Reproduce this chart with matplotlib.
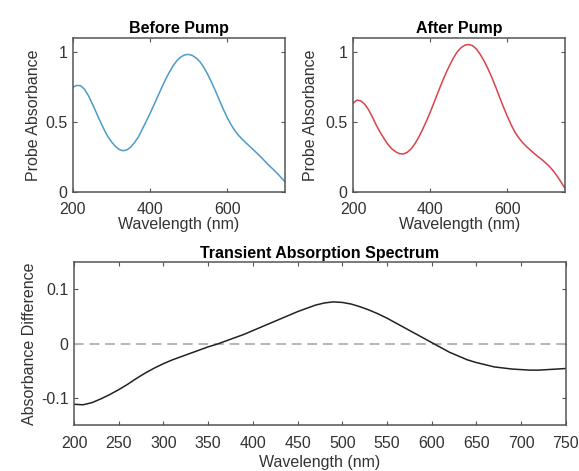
"""
Transient absorption figure: probe absorbance before/after pump and the difference spectrum
"""

import numpy as np
import matplotlib
matplotlib.use("Agg")
import matplotlib.pyplot as plt

plt.rcParams['font.family'] = ['Liberation Sans', 'DejaVu Sans']
plt.rcParams['font.size'] = 11.5

# values, one every 10 nm from 200 to 750
wavelength = np.arange(200, 751, 10)

abs_before = [0.750, 0.763, 0.760, 0.735, 0.690, 0.632, 0.572, 0.510, 0.452, 0.400,
              0.360, 0.327, 0.305, 0.296, 0.302, 0.322, 0.355, 0.395, 0.450, 0.505,
              0.562, 0.622, 0.683, 0.745, 0.803, 0.856, 0.903, 0.940, 0.966, 0.980,
              0.984, 0.976, 0.958, 0.930, 0.890, 0.840, 0.783, 0.722, 0.658, 0.594,
              0.535, 0.483, 0.440, 0.405, 0.376, 0.350, 0.324, 0.298, 0.272, 0.245,
              0.216, 0.188, 0.162, 0.135, 0.105, 0.075]

abs_after = [0.636, 0.658, 0.652, 0.628, 0.588, 0.536, 0.478, 0.428, 0.383, 0.342,
             0.310, 0.289, 0.275, 0.273, 0.284, 0.308, 0.345, 0.392, 0.447, 0.507,
             0.572, 0.641, 0.712, 0.781, 0.846, 0.904, 0.958, 1.002, 1.032, 1.050,
             1.055, 1.046, 1.022, 0.983, 0.936, 0.880, 0.818, 0.750, 0.678, 0.608,
             0.542, 0.481, 0.428, 0.387, 0.353, 0.325, 0.300, 0.276, 0.253, 0.232,
             0.208, 0.182, 0.150, 0.112, 0.070, 0.026]

abs_diff = [-0.112, -0.113, -0.109, -0.102, -0.094, -0.085, -0.075, -0.064, -0.054, -0.045,
            -0.037, -0.030, -0.024, -0.018, -0.012, -0.006, -0.001, 0.005, 0.011, 0.017,
            0.024, 0.031, 0.038, 0.045, 0.052, 0.059, 0.065, 0.071, 0.075, 0.077,
            0.076, 0.073, 0.068, 0.062, 0.055, 0.047, 0.038, 0.029, 0.020, 0.011,
            0.002, -0.007, -0.016, -0.023, -0.030, -0.035, -0.039, -0.043, -0.045, -0.047,
            -0.048, -0.049, -0.049, -0.048, -0.047, -0.046]

BLUE = '#4b9cc8'
RED = '#d9434a'
FRAME = '#555555'
TEXT = '#333333'


def style_axes(ax, xpad):
    """MATLAB-like box with inward ticks on all four sides"""
    for sp in ax.spines.values():
        sp.set_color(FRAME)
        sp.set_linewidth(1.1)
    ax.tick_params(direction='in', top=True, right=True, length=3,
                   width=0.8, color=FRAME, labelcolor=TEXT, labelsize=11.5)
    ax.tick_params(axis='x', pad=xpad)
    ax.tick_params(axis='y', pad=4)


fig = plt.figure(figsize=(5.79, 4.71), dpi=100)

ax1 = fig.add_axes([0.126, 0.592, 0.366, 0.327])
ax1.plot(wavelength, abs_before, color=BLUE, linewidth=1.1)
ax1.set_xlim(200, 750)
ax1.set_ylim(0, 1.1)
ax1.set_xticks([200, 400, 600])
ax1.set_yticks([0, 0.5, 1])
ax1.set_yticklabels(['0', '0.5', '1'])
ax1.set_title('Before Pump', fontweight='bold', fontsize=11.5, pad=4)
ax1.set_xlabel('Wavelength (nm)', color=TEXT, labelpad=0)
ax1.set_ylabel('Probe Absorbance', color=TEXT, labelpad=3)
style_axes(ax1, 7)

ax2 = fig.add_axes([0.610, 0.592, 0.366, 0.327])
ax2.plot(wavelength, abs_after, color=RED, linewidth=1.1)
ax2.set_xlim(200, 750)
ax2.set_ylim(0, 1.1)
ax2.set_xticks([200, 400, 600])
ax2.set_yticks([0, 0.5, 1])
ax2.set_yticklabels(['0', '0.5', '1'])
ax2.set_title('After Pump', fontweight='bold', fontsize=11.5, pad=4)
ax2.set_xlabel('Wavelength (nm)', color=TEXT, labelpad=0)
ax2.set_ylabel('Probe Absorbance', color=TEXT, labelpad=5)
style_axes(ax2, 7)

ax3 = fig.add_axes([0.128, 0.098, 0.849, 0.345])
ax3.axhline(0, color='#b5b5b5', linewidth=1.4, linestyle=(0, (5, 3)))
ax3.plot(wavelength, abs_diff, color='#222222', linewidth=1.1)
ax3.set_xlim(200, 750)
ax3.set_ylim(-0.15, 0.15)
ax3.set_xticks(np.arange(200, 751, 50))
ax3.set_yticks([-0.1, 0, 0.1])
ax3.set_yticklabels(['-0.1', '0', '0.1'])
ax3.set_title('Transient Absorption Spectrum', fontweight='bold', fontsize=11.5, pad=3)
ax3.set_xlabel('Wavelength (nm)', color=TEXT, labelpad=3)
ax3.set_ylabel('Absorbance Difference', color=TEXT, labelpad=3)
style_axes(ax3, 8)

fig.savefig('out.png', dpi=100)
